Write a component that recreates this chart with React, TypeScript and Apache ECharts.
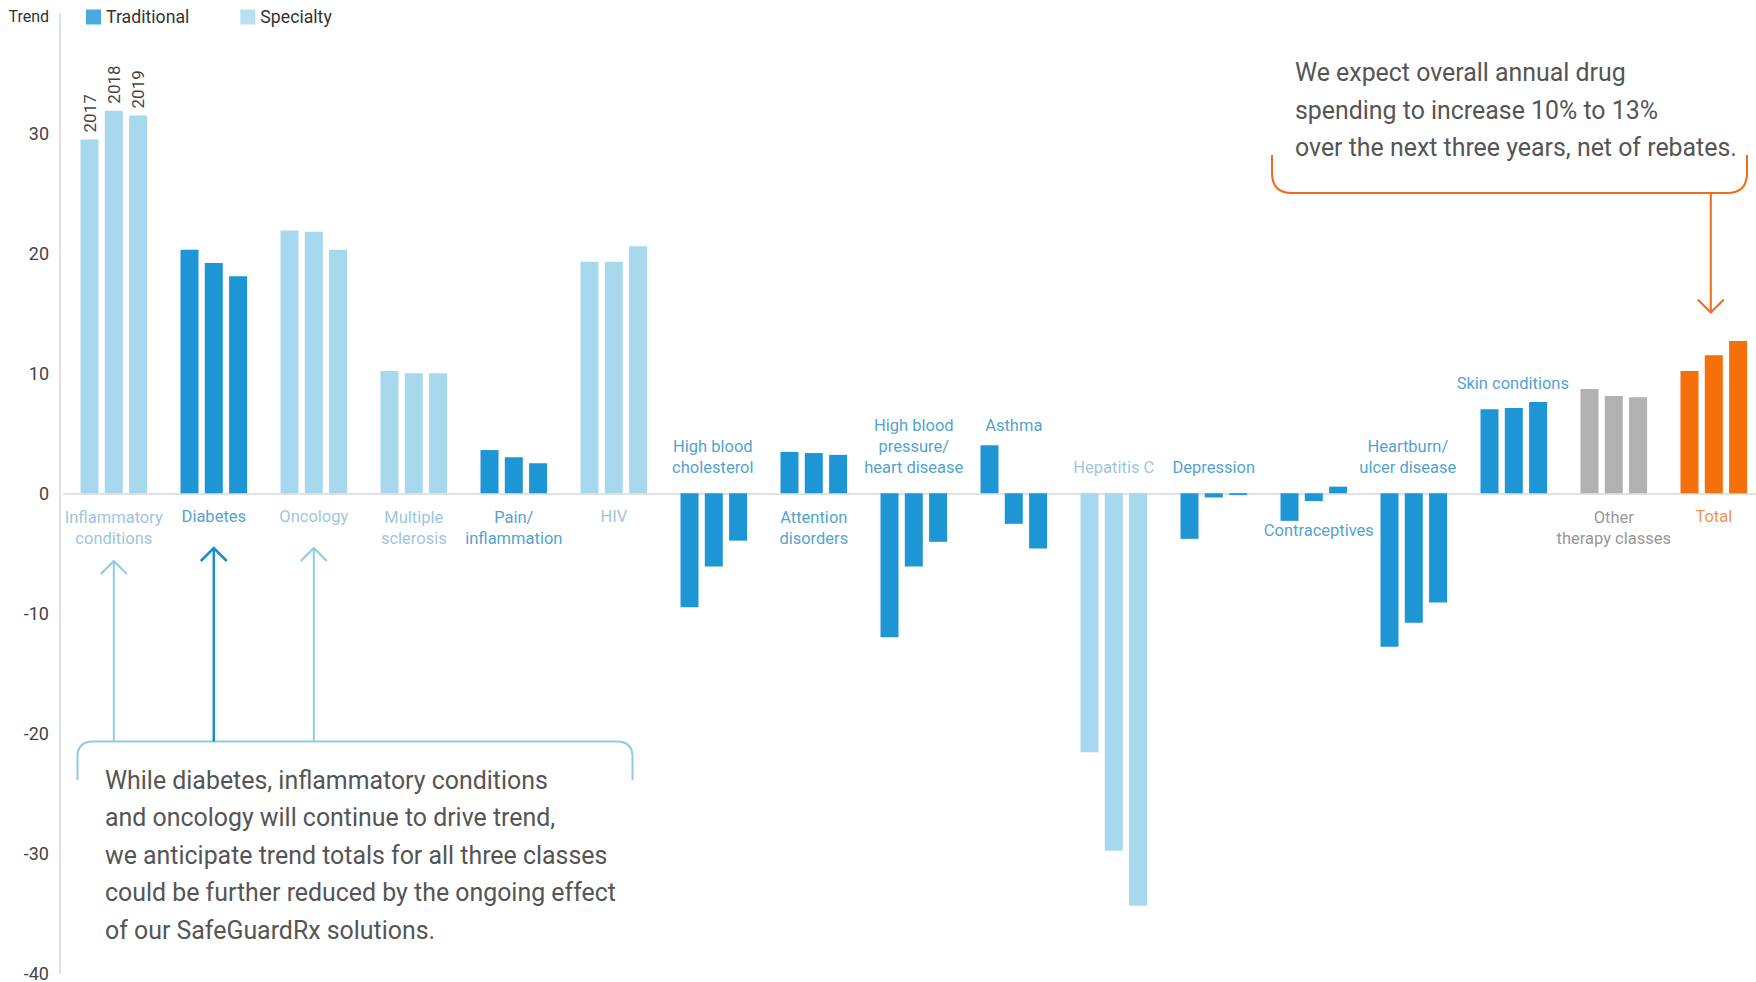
import React, { useEffect, useRef } from "react";
import * as echarts from "echarts";

// ---------- data ----------
const categories = [
  "Inflammatory conditions",
  "Diabetes",
  "Oncology",
  "Multiple sclerosis",
  "Pain/inflammation",
  "HIV",
  "High blood cholesterol",
  "Attention disorders",
  "High blood pressure/heart disease",
  "Asthma",
  "Hepatitis C",
  "Depression",
  "Contraceptives",
  "Heartburn/ulcer disease",
  "Skin conditions",
  "Other therapy classes",
  "Total",
];
const categoryLabels = [
  "Inflammatory\nconditions",
  "Diabetes",
  "Oncology",
  "Multiple\nsclerosis",
  "Pain/\ninflammation",
  "HIV",
  "High blood\ncholesterol",
  "Attention\ndisorders",
  "High blood\npressure/\nheart disease",
  "Asthma",
  "Hepatitis C",
  "Depression",
  "Contraceptives",
  "Heartburn/\nulcer disease",
  "Skin conditions",
  "Other\ntherapy classes",
  "Total",
];
// S = specialty, T = traditional, O = other, X = total
const categoryTypes = ["S", "T", "S", "S", "T", "S", "T", "T", "T", "T", "S", "T", "T", "T", "T", "O", "X"];
const years = ["2017", "2018", "2019"];
const trend2017 = [29.5, 20.3, 21.9, 10.2, 3.6, 19.3, -9.5, 3.45, -12.0, 4.0, -21.6, -3.8, -2.3, -12.8, 7.0, 8.7, 10.2];
const trend2018 = [31.9, 19.2, 21.8, 10.0, 3.0, 19.3, -6.1, 3.35, -6.1, -2.55, -29.8, -0.35, -0.65, -10.8, 7.1, 8.1, 11.5];
const trend2019 = [31.5, 18.1, 20.3, 10.0, 2.5, 20.6, -3.95, 3.2, -4.05, -4.6, -34.4, -0.15, 0.55, -9.1, 7.6, 8.0, 12.7];
const yMin = -40;
const yMax = 40;
const yInterval = 10;
const yAxisTitle = "Trend";
const legendNames = ["Traditional", "Specialty"];
const noteLeft = [
  "While diabetes, inflammatory conditions",
  "and oncology will continue to drive trend,",
  "we anticipate trend totals for all three classes",
  "could be further reduced by the ongoing effect",
  "of our SafeGuardRx solutions.",
];
const noteRight = [
  "We expect overall annual drug",
  "spending to increase 10% to 13%",
  "over the next three years, net of rebates.",
];

// ---------- layout (label anchors in axis units, not data) ----------
const labelAnchors = [-2.875, -1.96, -1.96, -2.875, -2.875, -1.96, 3.0, -2.875, 3.875, 5.66, 2.125, 2.125, -3.125, 3.0, 9.125, -2.875, -1.96];
const labelShiftX = [0, 0, 0, 0, 0, 0, -1, 0, 0, 0, 0, 0, 5, -6, -1, 0, 0];

const barColor: Record<string, string> = { T: "#1e95d4", S: "#a8d8ee", O: "#b1b1b1", X: "#f5700a" };
const textColor: Record<string, string> = { T: "#2189c4", S: "#7fb6d4", O: "#7a7a7a", X: "#ef7420" };
const FONT = "Roboto, 'Noto Sans', sans-serif";

echarts.graphic.registerShape(
  "bracketBlue",
  echarts.graphic.extendPath("M 77.5 780 L 77.5 757 Q 77.5 741.5 93 741.5 L 617 741.5 Q 632.5 741.5 632.5 757 L 632.5 780", {})
);
echarts.graphic.registerShape(
  "bracketOrange",
  echarts.graphic.extendPath("M 1272 155 L 1272 173 Q 1272 193 1292 193 L 1727 193 Q 1747 193 1747 173 L 1747 155", {})
);

const seriesValues = [trend2017, trend2018, trend2019];

export default function App() {
  const ref = useRef<HTMLDivElement>(null);
  useEffect(() => {
    if (!ref.current) return;
    const chart = echarts.init(ref.current, null, { renderer: "svg" });
    const barSeries = years.map((yr, si) => ({
      name: yr,
      type: "bar",
      barWidth: 18,
      barGap: "35%",
      data: seriesValues[si].map((v, i) => ({
        value: v,
        itemStyle: { color: barColor[categoryTypes[i]] },
        label:
          i === 0
            ? {
                show: true,
                position: "top",
                rotate: 90,
                align: "left",
                verticalAlign: "middle",
                distance: 7,
                formatter: yr,
                fontSize: 17,
                fontFamily: FONT,
                color: "#444",
              }
            : { show: false },
      })),
    }));
    const option: any = {
      animation: false,
      backgroundColor: "#ffffff",
      grid: { left: 63.8, right: 2.2, top: 13.5, bottom: 8.5, containLabel: false },
      legend: {
        left: 86,
        top: 8,
        itemWidth: 15,
        itemHeight: 15,
        itemGap: 51,
        padding: 0,
        textStyle: { fontSize: 17.7, fontFamily: FONT, color: "#333" },
        data: legendNames.map((n) => ({ name: n, icon: "rect" })),
        selectedMode: false,
      },
      xAxis: {
        type: "category",
        data: categories,
        axisLine: { onZero: true, lineStyle: { color: "#d9d9d9", width: 1.5 } },
        axisTick: { show: false },
        axisLabel: { show: false },
        splitLine: { show: false },
      },
      yAxis: {
        type: "value",
        min: yMin,
        max: yMax,
        interval: yInterval,
        offset: 3.8,
        axisLine: { show: true, lineStyle: { color: "#d9d9d9", width: 1.5 } },
        axisTick: { show: false },
        splitLine: { show: false },
        axisLabel: {
          margin: 11,
          fontSize: 18,
          fontFamily: FONT,
          color: "#444",
          showMaxLabel: true,
          showMinLabel: true,
          formatter: (v: number) => (v === yMax ? `{t|${yAxisTitle}}` : String(v)),
          rich: { t: { fontSize: 16, fontFamily: FONT, color: "#333", padding: [5, 0, 0, 0] } },
        },
      },
      series: [
        ...barSeries,
        { name: legendNames[0], type: "scatter", data: [], itemStyle: { color: barColor.T } },
        { name: legendNames[1], type: "scatter", data: [], itemStyle: { color: barColor.S } },
        {
          name: "classLabels",
          type: "scatter",
          silent: true,
          symbolSize: 1,
          itemStyle: { color: "rgba(0,0,0,0)" },
          emphasis: { disabled: true },
          z: 10,
          data: categories.map((c, i) => ({
            value: [c, labelAnchors[i]],
            label: {
              show: true,
              position: "inside",
              align: "center",
              verticalAlign: "middle",
              offset: [labelShiftX[i], 0],
              formatter: categoryLabels[i],
              fontSize: 16.5,
              lineHeight: 21,
              fontFamily: FONT,
              color: textColor[categoryTypes[i]],
            },
          })),
        },
      ],
    };
    chart.setOption(option);

    const cx = (name: string) => chart.convertToPixel({ xAxisIndex: 0 }, name) as number;
    const arrow = (x: number, yFrom: number, yTip: number, color: string, w: number, up: boolean) => {
      const d = up ? 13 : -13;
      return [
        { type: "line", shape: { x1: x, y1: yFrom, x2: x, y2: yTip }, style: { stroke: color, lineWidth: w }, silent: true },
        {
          type: "polyline",
          shape: { points: [[x - 13, yTip + d], [x, yTip], [x + 13, yTip + d]] },
          style: { stroke: color, lineWidth: w, fill: "none" },
          silent: true,
        },
      ];
    };
    const lightBlue = "#8fcbe6";
    const orange = "#f26b1d";
    const graphics: any[] = [
      { type: "bracketBlue", x: 0, y: 0, style: { stroke: lightBlue, lineWidth: 2, fill: "none" }, silent: true },
      { type: "bracketOrange", x: 0, y: 0, style: { stroke: orange, lineWidth: 2, fill: "none" }, silent: true },
      ...arrow(cx(categories[0]), 741.5, 561, lightBlue, 2, true),
      ...arrow(cx(categories[1]), 741.5, 548, "#1a8ad0", 2.5, true),
      ...arrow(cx(categories[2]), 741.5, 548, lightBlue, 2, true),
      ...arrow(cx(categories[16]) - 3, 193, 312.5, orange, 2, false),
      ...noteLeft.map((t, i) => ({
        type: "text",
        x: 105,
        y: 780 + 37.5 * i,
        silent: true,
        style: { text: t, fontSize: 24.9, fontFamily: FONT, fill: "#555", verticalAlign: "middle", align: "left" },
      })),
      ...noteRight.map((t, i) => ({
        type: "text",
        x: 1295,
        y: 72.5 + 37.5 * i,
        silent: true,
        style: { text: t, fontSize: 24.9, fontFamily: FONT, fill: "#555", verticalAlign: "middle", align: "left" },
      })),
    ];
    chart.setOption({ graphic: graphics });
    return () => chart.dispose();
  }, []);
  return <div ref={ref} style={{ position: "fixed", left: 0, top: 0, width: 1766, height: 982 }} />;
}
